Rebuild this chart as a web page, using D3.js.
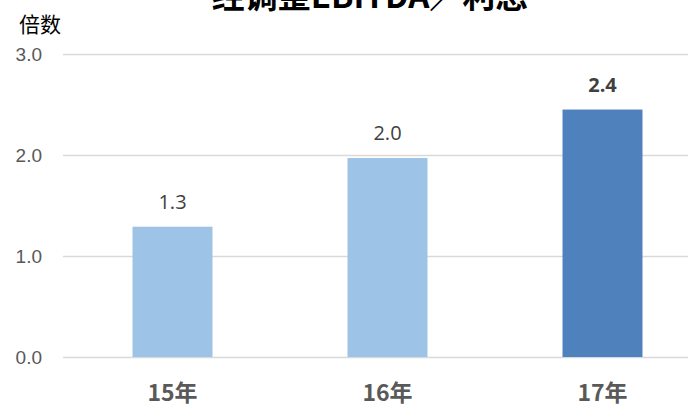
<!DOCTYPE html>
<meta charset='utf-8'>
<title>经调整EBITDA／利息</title>
<style>
body {
  margin: 0;
  background-color: #fff;
}
</style>
<svg width="688" height="408"></svg>
<script src="https://d3js.org/d3.v7.min.js"></script>
<script>

var title = "经调整EBITDA／利息";
var unitLabel = "倍数";
var years = ["15年", "16年", "17年"];
var ratios = [1.29, 1.97, 2.45];
var ratioLabels = ["1.3", "2.0", "2.4"];
var yTicks = [0, 1, 2, 3];

var svg = d3.select("svg");

// plot area, 0..3 maps to 357..54
var x = d3.scaleBand()
    .domain(years)
    .range([65, 710])
    .paddingInner(0.628)
    .paddingOuter(0.314);

var y = d3.scaleLinear()
    .domain([0, 3])
    .range([357, 54]);

// title, clipped at the top edge as in the source
svg.append("text")
    .attr("x", 370)
    .attr("y", 8)
    .attr("text-anchor", "middle")
    .attr("font-family", "'Noto Sans CJK SC', 'Liberation Sans', sans-serif")
    .attr("font-weight", "bold")
    .attr("font-size", 33)
    .attr("fill", "#000")
    .text(title);

svg.append("text")
    .attr("x", 19)
    .attr("y", 32)
    .attr("font-family", "'Noto Sans CJK SC', sans-serif")
    .attr("font-size", 21)
    .attr("fill", "#000")
    .text(unitLabel);

// gridlines + tick labels
var yAxis = d3.axisLeft(y)
    .tickValues(yTicks)
    .tickSize(-625)
    .tickPadding(21)
    .tickFormat(d3.format(".1f"));

var gy = svg.append("g")
    .attr("transform", "translate(63,0)")
    .call(yAxis);

gy.select(".domain").remove();
gy.selectAll(".tick line")
    .attr("stroke", "#d9d9d9")
    .attr("stroke-width", 1.5);
gy.selectAll(".tick text")
    .attr("font-family", "'Liberation Sans', Arial, sans-serif")
    .attr("font-size", 19)
    .attr("fill", "#595959")
    .attr("dy", "0.35em");

// bars
svg.selectAll("rect.bar")
    .data(ratios)
  .enter().append("rect")
    .attr("class", "bar")
    .attr("x", function(d, i) { return x(years[i]); })
    .attr("y", function(d) { return y(d); })
    .attr("width", x.bandwidth())
    .attr("height", function(d) { return y(0) - y(d); })
    .attr("fill", function(d, i) { return i === years.length - 1 ? "#4f81bd" : "#9dc3e6"; });

// value labels
svg.selectAll("text.value")
    .data(ratios)
  .enter().append("text")
    .attr("class", "value")
    .attr("x", function(d, i) { return x(years[i]) + x.bandwidth() / 2; })
    .attr("y", function(d) { return y(d) - 18; })
    .attr("text-anchor", "middle")
    .attr("font-family", "'Open Sans', 'Noto Sans', sans-serif")
    .attr("font-size", 20)
    .attr("font-weight", function(d, i) { return i === years.length - 1 ? "bold" : "normal"; })
    .attr("fill", "#404040")
    .text(function(d, i) { return ratioLabels[i]; });

// category labels
svg.selectAll("text.cat")
    .data(years)
  .enter().append("text")
    .attr("class", "cat")
    .attr("x", function(d) { return x(d) + x.bandwidth() / 2; })
    .attr("y", 401)
    .attr("text-anchor", "middle")
    .attr("font-family", "'Noto Sans CJK SC', sans-serif")
    .attr("font-weight", "bold")
    .attr("font-size", 23)
    .attr("fill", "#595959")
    .text(function(d) { return d; });

</script>
